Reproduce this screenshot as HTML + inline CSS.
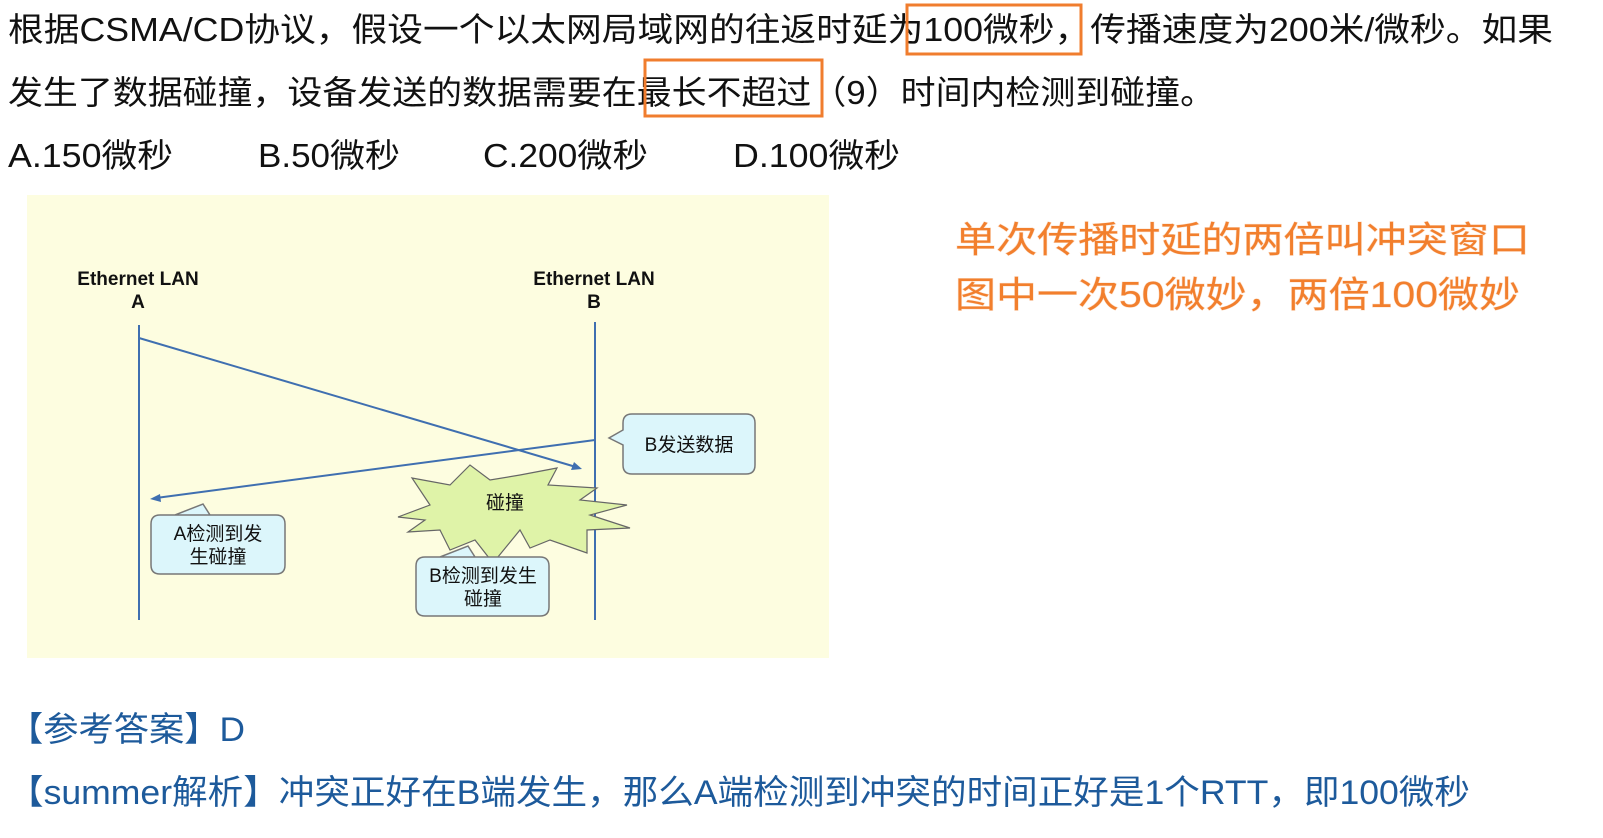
<!DOCTYPE html>
<html><head><meta charset="utf-8"><style>
html,body{margin:0;padding:0;background:#fff;overflow:hidden;width:1603px;height:838px;}
svg{display:block}
text{font-family:"Liberation Sans","Noto Sans CJK SC",sans-serif;}
</style></head><body>
<svg width="1603" height="838" viewBox="0 0 1603 838" xmlns="http://www.w3.org/2000/svg">
<rect width="1603" height="838" fill="#fff"/>
<g font-size="33" fill="#111">
<text x="8" y="41" textLength="1545" lengthAdjust="spacingAndGlyphs">根据CSMA/CD协议，假设一个以太网局域网的往返时延为100微秒，传播速度为200米/微秒。如果</text>
<text x="8" y="104" textLength="1207" lengthAdjust="spacingAndGlyphs">发生了数据碰撞，设备发送的数据需要在最长不超过（9）时间内检测到碰撞。</text>
<text x="8" y="167" textLength="165" lengthAdjust="spacingAndGlyphs">A.150微秒</text>
<text x="258" y="167" textLength="142" lengthAdjust="spacingAndGlyphs">B.50微秒</text>
<text x="483" y="167" textLength="165" lengthAdjust="spacingAndGlyphs">C.200微秒</text>
<text x="733" y="167" textLength="167" lengthAdjust="spacingAndGlyphs">D.100微秒</text>
</g>
<rect x="907" y="5" width="174" height="49" fill="none" stroke="#f07d2e" stroke-width="3"/>
<rect x="645" y="60" width="177" height="56" fill="none" stroke="#f07d2e" stroke-width="3"/>

<rect x="27" y="195" width="802" height="463" fill="#fdfde0"/>
<g font-size="19" font-weight="bold" fill="#111" text-anchor="middle">
<text x="138" y="285">Ethernet LAN</text><text x="138" y="308">A</text>
<text x="594" y="285">Ethernet LAN</text><text x="594" y="308">B</text>
</g>
<g stroke="#3f6fb0" stroke-width="2" fill="none">
<line x1="139" y1="325" x2="139" y2="620"/>
<line x1="595" y1="322" x2="595" y2="620"/>
<line x1="139" y1="338" x2="576" y2="467"/>
<line x1="595" y1="440" x2="156" y2="498"/>
</g>
<polygon points="582,469 571,470 574,462" fill="#3f6fb0"/>
<polygon points="150,499 160,494 161,502" fill="#3f6fb0"/>
<polygon points="412,478 450,485 470,465 490,480 520,475 557,468 548,485 597,488 580,500 627,505 590,515 630,528 587,530 587,553 550,540 530,548 520,530 493,563 475,540 450,550 440,530 408,532 425,520 398,517 430,505" fill="#dff3a8" stroke="#666" stroke-width="1.2"/>
<text x="505" y="509" font-size="19" text-anchor="middle" fill="#111">碰撞</text>

<g fill="#dcf6fb" stroke="#777" stroke-width="1.5">
<path d="M632,414 H746 Q755,414 755,423 V465 Q755,474 746,474 H632 Q623,474 623,465 V445 L609,438 L623,430 V423 Q623,414 632,414 Z"/>
<path d="M160,515 H276 Q285,515 285,524 V565 Q285,574 276,574 H160 Q151,574 151,565 V524 Q151,515 160,515 H175 L203,504 L210,515 Z"/>
<path d="M425,557 H540 Q549,557 549,566 V607 Q549,616 540,616 H425 Q416,616 416,607 V566 Q416,557 425,557 H440 L468,546 L475,557 Z"/>
</g>
<g font-size="19" fill="#111" text-anchor="middle">
<text x="689" y="451">B发送数据</text>
<text x="218" y="540">A检测到发</text><text x="218" y="563">生碰撞</text>
<text x="483" y="582">B检测到发生</text><text x="483" y="605">碰撞</text>
</g>

<g font-size="36" fill="#f27f2d" stroke="#fbe0cc" stroke-width="1" paint-order="stroke">
<text x="955" y="252" textLength="575" lengthAdjust="spacingAndGlyphs">单次传播时延的两倍叫冲突窗口</text>
<text x="955" y="307" textLength="565" lengthAdjust="spacingAndGlyphs">图中一次50微妙，两倍100微妙</text>
</g>
<g font-size="34" fill="#1d5a9b">
<text x="8" y="741" textLength="237" lengthAdjust="spacingAndGlyphs">【参考答案】D</text>
<text x="8" y="804" textLength="1462" lengthAdjust="spacingAndGlyphs">【summer解析】冲突正好在B端发生，那么A端检测到冲突的时间正好是1个RTT，即100微秒</text>
</g>
</svg>
</body></html>
